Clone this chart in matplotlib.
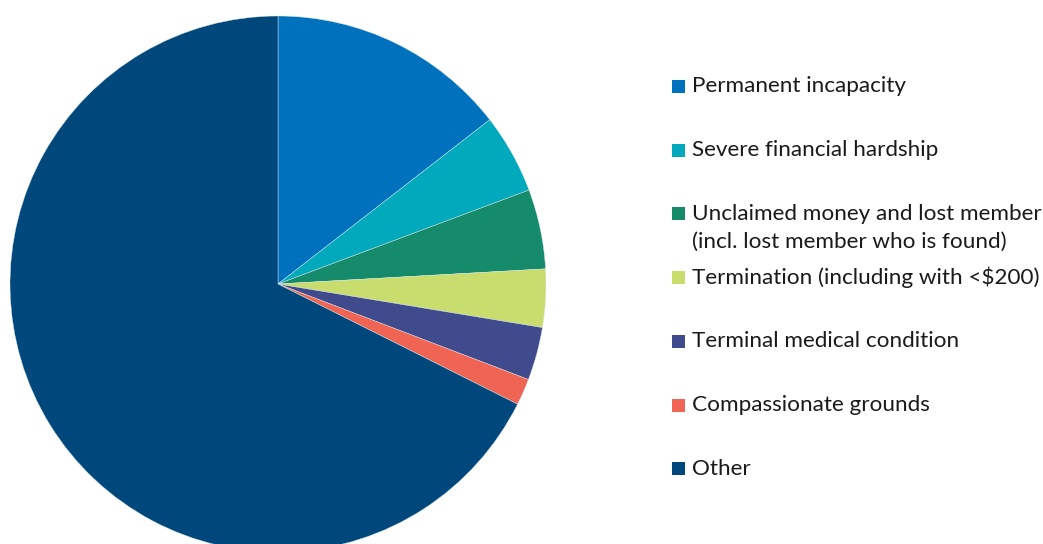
import matplotlib
matplotlib.use("Agg")
import matplotlib.pyplot as plt
from matplotlib.patches import Rectangle

categories = [
    "Permanent incapacity",
    "Severe financial hardship",
    "Unclaimed money and lost member\n(incl. lost member who is found)",
    "Termination (including with <$200)",
    "Terminal medical condition",
    "Compassionate grounds",
    "Other",
]
values = [14.5, 4.8, 4.8, 3.5, 3.2, 1.6, 67.6]
colors = ["#0071BC", "#00AABC", "#168B6B", "#C9DD6E", "#404B8D", "#EF6453", "#00487B"]

W, H = 1043, 544
fig = plt.figure(figsize=(W / 100, H / 100), dpi=100)
plt.rcParams['font.family'] = ['Lato', 'DejaVu Sans']

cx, cy, r = 278, 284, 268
ax = fig.add_axes([(cx - r) / W, (H - cy - r) / H, 2 * r / W, 2 * r / H])
ax.pie(values, colors=colors, startangle=90, counterclock=False, radius=1,
       wedgeprops=dict(linewidth=0.3, edgecolor="#dde8f0"))
ax.set_xlim(-1, 1)
ax.set_ylim(-1, 1)
ax.set_aspect("equal")
ax.axis("off")

# legend
y0, dy, lh = 86.5, 63.7, 28
for i, (lab, col) in enumerate(zip(categories, colors)):
    y = y0 + i * dy
    fig.patches.append(Rectangle((672 / W, (H - y - 6.5) / H), 13 / W, 13 / H,
                                 transform=fig.transFigure, facecolor=col, edgecolor="none"))
    for k, line in enumerate(lab.split("\n")):
        fig.text(692 / W, (H - y - k * lh) / H, line, fontsize=16.2, color="#1a1a1a",
                 va="center", ha="left")

fig.savefig("out.png", dpi=100)
